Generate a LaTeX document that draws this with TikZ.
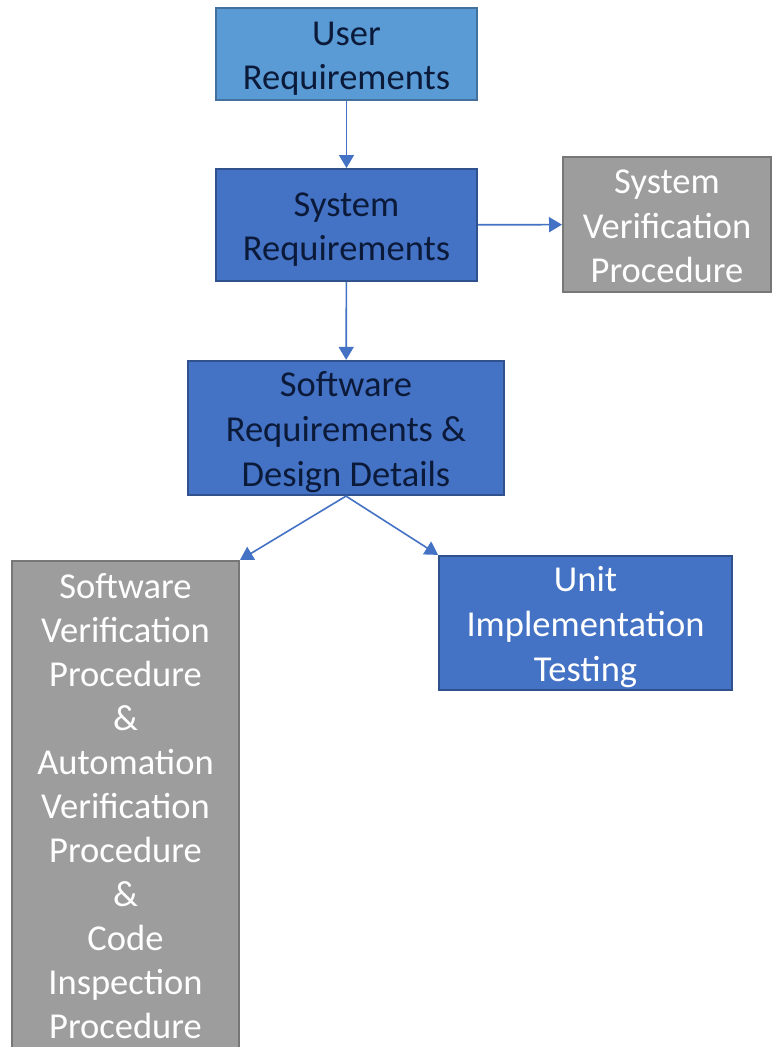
\documentclass[tikz,border=0pt]{standalone}
\usepackage{fontspec}
\setmainfont{Carlito}
\usetikzlibrary{arrows.meta}
\definecolor{lightblue}{HTML}{5B9BD5}
\definecolor{lightedge}{HTML}{41719C}
\definecolor{darkblue}{HTML}{4472C4}
\definecolor{darkedge}{HTML}{2F528F}
\definecolor{boxgray}{HTML}{9D9D9D}
\definecolor{grayedge}{HTML}{777777}
\definecolor{navytext}{HTML}{0C1A3A}
% struts so every box centres its lines the same way
\newcommand{\boxtopstrut}{\rule{0pt}{36pt}}
\newcommand{\boxbotstrut}{\rule[-9pt]{0pt}{9pt}}
\tikzset{
  box/.style={draw, line width=2pt, align=center, inner sep=0pt,
    font=\fontsize{36.5}{44.6}\selectfont},
  userbox/.style={box, fill=lightblue, draw=lightedge, text=navytext},
  reqbox/.style={box, fill=darkblue, draw=darkedge, text=navytext},
  verbox/.style={box, fill=boxgray, draw=grayedge, text=white},
  unitbox/.style={box, fill=darkblue, draw=darkedge, text=white},
  flow/.style={draw=darkblue, line width=1.6pt, -{Triangle[width=15pt,length=13pt]}}
}
\begin{document}
\begin{tikzpicture}[x=1pt,y=-1pt]
  \useasboundingbox (0,0) rectangle (772,1047);
  \fill[white] (0,0) rectangle (772,1047);
  \node[userbox, minimum width=261pt, minimum height=92pt] (user) at (346.5,54)
    {\boxtopstrut User\\Requirements\boxbotstrut};
  \node[reqbox, minimum width=261pt, minimum height=112pt] (sysreq) at (346.5,225)
    {\boxtopstrut System\\Requirements\boxbotstrut};
  \node[verbox, minimum width=208pt, minimum height=125pt] (sysver) at (667,224.5)
    {\boxtopstrut System\\Verification\\Procedure\boxbotstrut};
  \node[reqbox, minimum width=316pt, minimum height=130pt] (swreq) at (346,428)
    {\boxtopstrut Software\\Requirements \&\\Design Details\boxbotstrut};
  \node[verbox, minimum width=227pt, minimum height=487pt,
    font=\fontsize{36.5}{44}\selectfont] (swver) at (125.5,804.5)
    {\boxtopstrut Software\\Verification\\Procedure\\\&\\Automation\\Verification\\Procedure\\\&\\Code\\Inspection\\Procedure\boxbotstrut};
  \node[unitbox, minimum width=293pt, minimum height=130pt] (unit) at (585.5,623)
    {\boxtopstrut Unit\\Implementation\\Testing\boxbotstrut};
  \draw[flow] (user) -- (sysreq);
  \draw[flow] (sysreq) -- (sysver);
  \draw[flow] (sysreq) -- (swreq);
  \draw[flow] (swreq.south) -- (swver.north east);
  \draw[flow] (swreq.south) -- (unit.north west);
\end{tikzpicture}
\end{document}
